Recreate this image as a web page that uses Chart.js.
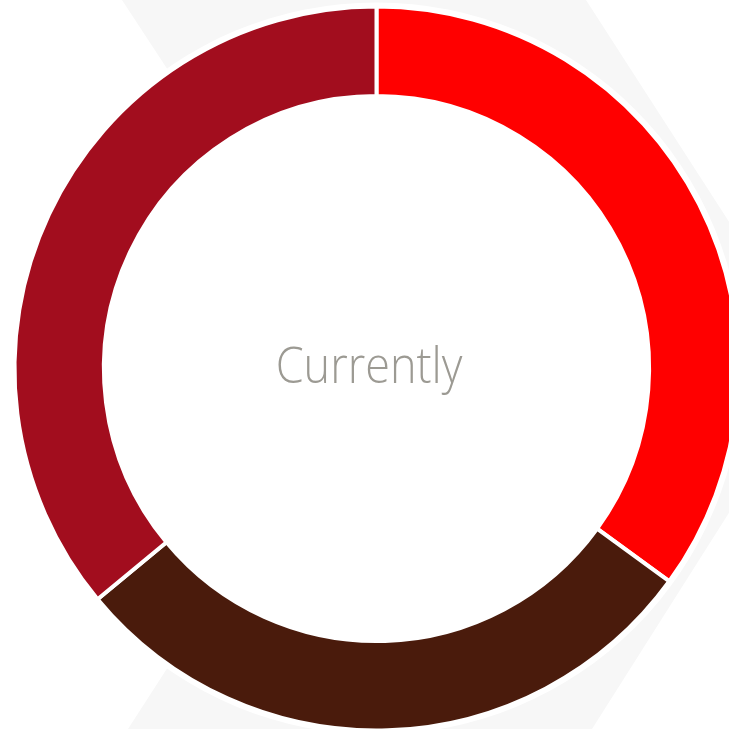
<!DOCTYPE html>
<html>
<head>
<meta charset="utf-8">
<script src="https://cdn.jsdelivr.net/npm/chart.js@4.4.1/dist/chart.umd.min.js"></script>
<style>
  html, body { margin: 0; padding: 0; overflow: hidden; background: #ffffff; width: 729px; height: 729px; }
  #bg { position: absolute; left: 0; top: 0; }
  #wrap { position: absolute; left: 0; top: 0; width: 753px; height: 737px; }
  #center-label {
    position: absolute; left: 369px; top: 364px;
    transform: translate(-50%, -50%) scaleX(0.9);
    font-family: 'Open Sans', sans-serif; font-weight: 300; font-size: 50px;
    color: #9c9a93; white-space: nowrap; pointer-events: none;
  }
</style>
</head>
<body>
<!-- pale chevron behind the ring -->
<svg id="bg" width="729" height="729">
  <polygon points="122,0 586,0 822,366 592,729 128,729 362,366" fill="#f7f7f7"></polygon>
</svg>
<div id="wrap"><canvas id="chart" width="753" height="737"></canvas></div>
<div id="center-label">Currently</div>
<script>
const labels = ['Segment A', 'Segment B', 'Segment C'];
const shares = [35, 29, 36];
const colors = ['#ff0000', '#4a1b0c', '#a20d1e'];

// white disc under the ring, so the chevron stops at the outer edge
const whiteDisc = {
  id: 'whiteDisc',
  beforeDatasetsDraw (chart) {
    const arc = chart.getDatasetMeta(0).data[0];
    if (!arc) return;
    const ctx = chart.ctx;
    ctx.save();
    ctx.beginPath();
    ctx.arc(arc.x, arc.y, arc.outerRadius + 4, 0, Math.PI * 2);
    ctx.fillStyle = '#ffffff';
    ctx.fill();
    ctx.restore();
  }
};

new Chart(document.getElementById('chart'), {
  type: 'doughnut',
  data: {
    labels: labels,
    datasets: [{
      data: shares,
      backgroundColor: colors,
      borderColor: '#ffffff',
      borderWidth: 4
    }]
  },
  options: {
    responsive: false,
    animation: false,
    radius: 362,
    cutout: '75.3%',
    plugins: {
      legend: { display: false },
      tooltip: { enabled: false }
    }
  },
  plugins: [whiteDisc]
});
</script>
</body>
</html>
